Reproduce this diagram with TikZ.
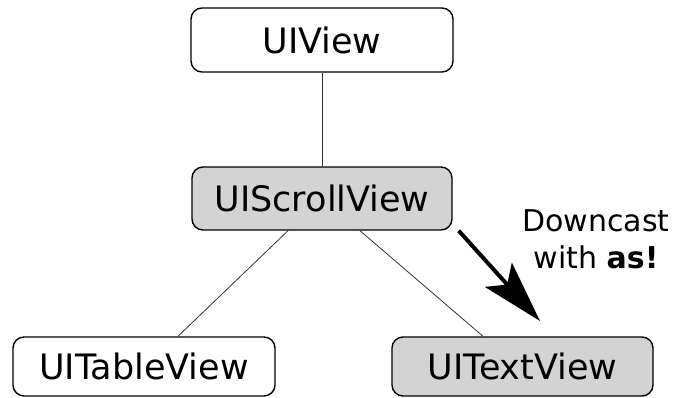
\documentclass[tikz,border=0pt]{standalone}
\usepackage{fontspec}
\setmainfont{DejaVu Sans}
\usetikzlibrary{arrows.meta,calc}
\definecolor{boxgray}{HTML}{D3D3D3}
\begin{document}
\begin{tikzpicture}[x=1pt,y=-1pt,
  viewbox/.style={draw=black, line width=1.4pt, rounded corners=11pt,
    minimum width=#1, font=\fontsize{35}{40}\selectfont, inner sep=0pt},
  shaded/.style={fill=boxgray},
  link/.style={draw=black!80, line width=0.8pt},
  cast/.style={draw=black, line width=4pt,
    -{Stealth[length=62pt, width=36pt, inset=13pt]}}]
\useasboundingbox (0,0) rectangle (675,397);
\node[viewbox=262pt, minimum height=64pt] (uiview) at (322,40) {UIView};
\node[viewbox=260pt, minimum height=63pt, shaded] (scroll) at (322,198.5) {UIScrollView};
\node[viewbox=262pt, minimum height=59pt] (table) at (144,366.5) {UITableView};
\node[viewbox=261pt, minimum height=59pt, shaded] (text) at (522.5,366.5) {UITextView};
\draw[link] (uiview.south) -- (scroll.north);
\draw[link] ([xshift=-34pt]scroll.south) -- ([xshift=34pt]table.north);
\draw[link] ([xshift=38pt]scroll.south) -- ([xshift=-39.5pt]text.north);
\coordinate (tip) at (540,321);
\draw[cast] ([xshift=6pt]scroll.south east) -- (tip);
\node[align=center, font=\fontsize{30}{37}\selectfont, inner sep=0pt] (label) at (596,239) {Downcast\\with \textbf{as!}};
\end{tikzpicture}
\end{document}
